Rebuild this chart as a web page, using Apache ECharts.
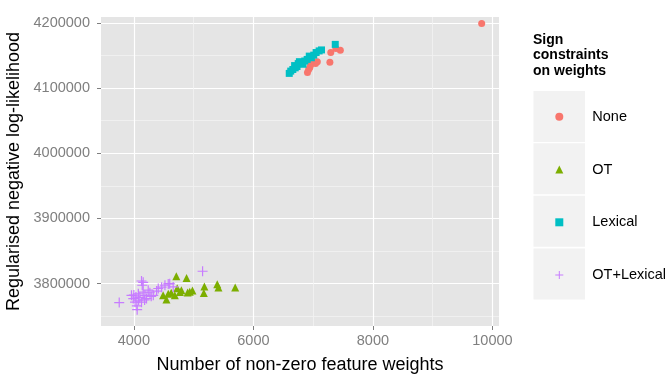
<!DOCTYPE html>
<html>
<head>
<meta charset="utf-8">
<script src="https://cdn.jsdelivr.net/npm/echarts@6/dist/echarts.min.js"></script>
<style>
  html, body { margin: 0; padding: 0; background: #fff; }
  #chart { width: 668px; height: 374px; }
</style>
</head>
<body>
<div id="chart"></div>
<script>
// Weights vs. regularised negative log-likelihood, by sign-constraint setting
const seriesNames = ['None', 'OT', 'Lexical', 'OT+Lexical'];

const noneData = [
  [6905, 4124000], [6925, 4128500], [6945, 4131500], [6960, 4136000],
  [6985, 4138500], [7010, 4140500], [7040, 4137500], [7070, 4140500],
  [7280, 4139500], [7295, 4154500], [7380, 4160500], [7455, 4158000],
  [9820, 4199000]
];

const otData = [
  [4490, 3782000], [4545, 3775500], [4575, 3784500], [4625, 3786000],
  [4685, 3782000], [4710, 3811500], [4725, 3793000], [4770, 3787000],
  [4795, 3790000], [4882, 3808500], [4900, 3786500], [4935, 3787500],
  [4980, 3789500], [5170, 3785500], [5180, 3795500], [5395, 3799200],
  [5415, 3794000], [5695, 3794000]
];

const lexicalData = [
  [6600, 4122500], [6625, 4126000], [6660, 4128500], [6700, 4131000],
  [6690, 4134500], [6730, 4133000], [6750, 4137500], [6770, 4140500],
  [6800, 4138000], [6830, 4136500], [6860, 4141500], [6900, 4144000],
  [6935, 4149000], [6970, 4146500], [7010, 4150500], [7050, 4154500],
  [7100, 4157000], [7140, 4158500], [7370, 4167000]
];

const otLexicalData = [
  [3755, 3771000], [3960, 3782000], [3990, 3777000], [4000, 3782500],
  [4020, 3771500], [4035, 3779500], [4050, 3766000], [4055, 3760000],
  [4075, 3784500], [4080, 3774500], [4100, 3779000], [4128, 3804000],
  [4140, 3797500], [4128, 3771500], [4156, 3802000], [4156, 3787000],
  [4180, 3775000], [4185, 3782000], [4212, 3777000], [4240, 3790000],
  [4268, 3786000], [4290, 3780500], [4325, 3782000], [4380, 3788500],
  [4408, 3792500], [4465, 3794500], [4520, 3797500], [4575, 3799500],
  [4600, 3800000], [4658, 3795000], [5150, 3819000]
];

const xMajorTicks = [4000, 6000, 8000, 10000];
const xMinorTicks = [5000, 7000, 9000];
const yMajorTicks = [3800000, 3900000, 4000000, 4100000, 4200000];
const yMinorTicks = [3750000, 3850000, 3950000, 4050000, 4150000];

const colors = ['#F8766D', '#7CAE00', '#00BFC4', '#C77CFF'];
const plusPath = 'path://M4.4,0H5.6V10H4.4Z M0,4.4H10V5.6H0Z';
const symbols = ['circle', 'triangle', 'rect', plusPath];
const sizes = [7, 8, 7, 10];
const allData = [noneData, otData, lexicalData, otLexicalData];

const FONT = '"Liberation Sans", Arial, Helvetica, sans-serif';
const xRange = { min: 3450, max: 10110 };
const yRange = { min: 3735000, max: 4209000 };
const plainNumber = function (v) { return String(v); };

const chart = echarts.init(document.getElementById('chart'), null, { renderer: 'canvas' });

// Grey key tiles behind each legend entry
const keyTiles = [91, 143.3, 195.7, 248.5].map(function (top) {
  return {
    type: 'rect',
    left: 533.5,
    top: top,
    shape: { width: 51.5, height: 51 },
    style: { fill: '#F2F2F2' },
    z: 0
  };
});

const option = {
  animation: false,
  textStyle: { fontFamily: FONT },
  grid: {
    left: 101, right: 169, top: 17, bottom: 48,
    containLabel: false,
    outerBoundsMode: 'none',
    show: true, backgroundColor: '#E5E5E5', borderWidth: 0
  },
  xAxis: [
    {
      type: 'value', min: xRange.min, max: xRange.max,
      name: 'Number of non-zero feature weights',
      nameLocation: 'middle', nameGap: 30,
      nameTextStyle: { color: '#000', fontSize: 18, fontFamily: FONT },
      axisLine: { show: false },
      axisTick: { show: true, length: 4, lineStyle: { color: '#7F7F7F', width: 1 }, customValues: xMajorTicks },
      axisLabel: { color: '#7F7F7F', fontSize: 14.5, margin: 7, fontFamily: FONT, formatter: plainNumber, customValues: xMajorTicks },
      splitLine: { show: true, lineStyle: { color: '#FFFFFF', width: 1.2 } }
    },
    {
      type: 'value', min: xRange.min, max: xRange.max, position: 'bottom',
      axisLine: { show: false },
      axisTick: { show: false, customValues: xMinorTicks },
      axisLabel: { show: false, customValues: xMinorTicks },
      splitLine: { show: true, lineStyle: { color: '#F2F2F2', width: 0.8 } }
    }
  ],
  yAxis: [
    {
      type: 'value', min: yRange.min, max: yRange.max,
      name: 'Regularised negative log-likelihood',
      nameLocation: 'middle', nameGap: 69,
      nameTextStyle: { color: '#000', fontSize: 18, fontFamily: FONT },
      axisLine: { show: false },
      axisTick: { show: true, length: 4, lineStyle: { color: '#7F7F7F', width: 1 }, customValues: yMajorTicks },
      axisLabel: { color: '#7F7F7F', fontSize: 14.5, margin: 11, fontFamily: FONT, formatter: plainNumber, customValues: yMajorTicks },
      splitLine: { show: true, lineStyle: { color: '#FFFFFF', width: 1.2 } }
    },
    {
      type: 'value', min: yRange.min, max: yRange.max, position: 'left',
      axisLine: { show: false },
      axisTick: { show: false, customValues: yMinorTicks },
      axisLabel: { show: false, customValues: yMinorTicks },
      splitLine: { show: true, lineStyle: { color: '#F2F2F2', width: 0.8 } }
    }
  ],
  legend: {
    orient: 'vertical',
    left: 555.3,
    top: 108.7,
    padding: 0,
    itemWidth: 8,
    itemHeight: 8,
    itemGap: 36.8,
    textStyle: { color: '#000', fontSize: 14.5, lineHeight: 16, fontFamily: FONT, padding: [0, 0, 0, 24] },
    data: seriesNames.map(function (n, i) {
      return { name: n, icon: symbols[i] };
    })
  },
  graphic: keyTiles.concat([
    {
      type: 'text',
      left: 533,
      top: 32,
      style: {
        text: 'Sign\nconstraints\non weights',
        font: 'bold 14px ' + FONT,
        lineHeight: 15.5,
        fill: '#000'
      }
    }
  ]),
  series: seriesNames.map(function (n, i) {
    return {
      name: n,
      type: 'scatter',
      xAxisIndex: 0,
      yAxisIndex: 0,
      symbol: symbols[i],
      symbolSize: sizes[i],
      itemStyle: { color: colors[i], opacity: 1 },
      emphasis: { disabled: true },
      data: allData[i]
    };
  })
};

chart.setOption(option);
</script>
</body>
</html>
